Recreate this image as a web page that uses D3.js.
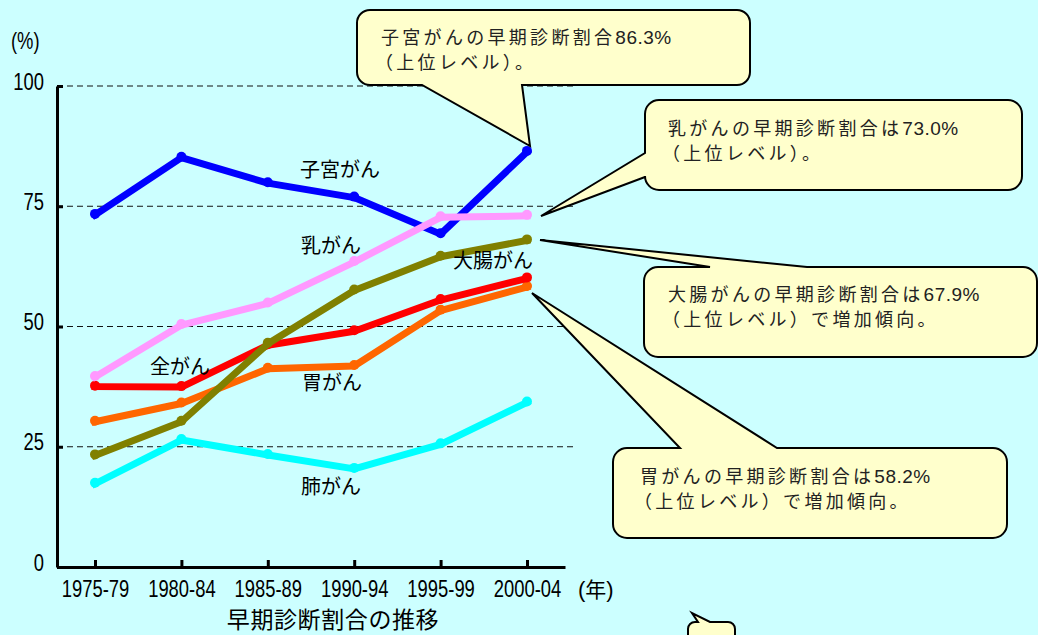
<!DOCTYPE html>
<html>
<head>
<meta charset="utf-8">
<script src="https://d3js.org/d3.v7.min.js"></script>
<style>
  body { margin: 0; background: #ccffff; }
  svg { display: block; }
</style>
</head>
<body>
<div id="chart"></div>
<script>
// periods on the x axis
const categories = ["1975-79", "1980-84", "1985-89", "1990-94", "1995-99", "2000-04"];

// early diagnosis share (%) per site
const uterus = [73.2, 85.1, 79.8, 76.8, 69.2, 86.3];
const breast = [39.5, 50.3, 54.8, 63.4, 72.7, 73.0];
const colon  = [23.2, 30.2, 46.4, 57.5, 64.5, 67.9];
const allSites = [37.5, 37.4, 46.1, 49.0, 55.5, 60.0];
const stomach = [30.2, 34.0, 41.2, 41.8, 53.3, 58.2];
const lung   = [17.3, 26.4, 23.3, 20.4, 25.5, 34.2];

const yTicks = [0, 25, 50, 75, 100];

const width = 1038, height = 635;
const sans = "'Liberation Sans', Arial, sans-serif";
const jp = "'Noto Sans CJK JP', 'Noto Sans', sans-serif";
const squeeze = 0.8;   // narrow look of the axis font

const series = [
  { name: "肺がん",   values: lung,     color: "#00ffff", lx: 301, ly: 494 },
  { name: "胃がん",   values: stomach,  color: "#ff6600", lx: 302, ly: 390 },
  { name: "全がん",   values: allSites, color: "#ff0000", lx: 150, ly: 374 },
  { name: "子宮がん", values: uterus,   color: "#0000ff", lx: 300, ly: 177 },
  { name: "乳がん",   values: breast,   color: "#ff99ff", lx: 301, ly: 253 },
  { name: "大腸がん", values: colon,    color: "#808000", lx: 453, ly: 268 }
];

const svg = d3.select("#chart").append("svg")
    .attr("width", width)
    .attr("height", height);

svg.append("rect").attr("width", width).attr("height", height).attr("fill", "#ccffff");

const x = d3.scalePoint().domain(categories).range([57, 565]).padding(0.44);
const y = d3.scaleLinear().domain([0, 100]).range([567, 86]);

// dashed gridlines
svg.append("g")
  .selectAll("line")
  .data(yTicks.filter(d => d > 0))
  .join("line")
    .attr("x1", 57).attr("x2", 575)
    .attr("y1", d => y(d)).attr("y2", d => y(d))
    .attr("stroke", "#111")
    .attr("stroke-width", 1)
    .attr("stroke-dasharray", "6,4");

// axes
const yAxis = svg.append("g")
    .attr("transform", "translate(57,0)")
    .call(d3.axisLeft(y).tickValues(yTicks).tickSizeInner(-6).tickSizeOuter(0).tickPadding(13));
yAxis.selectAll("text")
    .attr("dy", 3)
    .attr("x", -13 / squeeze)
    .attr("transform", `scale(${squeeze},1)`);

const xAxis = svg.append("g")
    .attr("transform", "translate(0,567)")
    .call(d3.axisBottom(x).tickSizeInner(-7).tickSizeOuter(0).tickPadding(14));
xAxis.selectAll("text").attr("transform", `scale(${squeeze},1)`);

[yAxis, xAxis].forEach(g => {
  g.select(".domain").attr("stroke", "#000").attr("stroke-width", 3);
  g.selectAll(".tick line").attr("stroke", "#000").attr("stroke-width", 3);
  g.selectAll("text")
    .attr("fill", "#000")
    .style("font-family", sans)
    .style("font-size", "23px");
});

svg.append("text")
  .attr("transform", `translate(11,49) scale(${squeeze},1)`)
  .style("font-family", sans).style("font-size", "23px")
  .text("(%)");

const nen = svg.append("text")
  .attr("x", 578).attr("y", 597)
  .style("font-size", "22px");
nen.append("tspan").style("font-family", sans).text("(");
nen.append("tspan").style("font-family", jp).style("font-size", "21px").text("年");
nen.append("tspan").style("font-family", sans).text(")");

svg.append("text").attr("x", 333).attr("y", 628)
  .attr("text-anchor", "middle")
  .style("font-family", jp).style("font-size", "23px").style("letter-spacing", "0.6px")
  .text("早期診断割合の推移");

// lines + markers
const line = d3.line()
    .x((d, i) => x(categories[i]))
    .y(d => y(d));

const lines = svg.append("g");
series.forEach(s => {
  lines.append("path")
    .attr("d", line(s.values))
    .attr("fill", "none")
    .attr("stroke", s.color)
    .attr("stroke-width", 7)
    .attr("stroke-linecap", "square")
    .attr("stroke-linejoin", "round");
  lines.selectAll(null)
    .data(s.values)
    .join("circle")
      .attr("cx", (d, i) => x(categories[i]))
      .attr("cy", d => y(d) - 1)
      .attr("r", 5)
      .attr("fill", s.color);
});

// series labels
svg.append("g")
  .selectAll("text")
  .data(series)
  .join("text")
    .attr("x", d => d.lx)
    .attr("y", d => d.ly)
    .style("font-family", jp)
    .style("font-size", "20px")
    .attr("fill", "#000")
    .text(d => d.name);

// callout bubbles: rounded box with a pointer on one side
function bubble(b) {
  const { x0, y0, w, h, r, side, a, c, tip } = b;
  const x1 = x0 + w, y1 = y0 + h;
  const p = d3.path();
  p.moveTo(x0 + r, y0);
  if (side === "top") { p.lineTo(a, y0); p.lineTo(tip[0], tip[1]); p.lineTo(c, y0); }
  p.lineTo(x1 - r, y0);
  p.arcTo(x1, y0, x1, y0 + r, r);
  p.lineTo(x1, y1 - r);
  p.arcTo(x1, y1, x1 - r, y1, r);
  if (side === "bottom") { p.lineTo(c, y1); p.lineTo(tip[0], tip[1]); p.lineTo(a, y1); }
  p.lineTo(x0 + r, y1);
  p.arcTo(x0, y1, x0, y1 - r, r);
  if (side === "left") { p.lineTo(x0, c); p.lineTo(tip[0], tip[1]); p.lineTo(x0, a); }
  p.lineTo(x0, y0 + r);
  p.arcTo(x0, y0, x0 + r, y0, r);
  p.closePath();
  return p.toString();
}

const callouts = [
  { x0: 357, y0: 10, w: 393, h: 75, r: 13, side: "bottom", a: 422, c: 522, tip: [530, 146],
    lines: ["子宮がんの早期診断割合86.3%", "（上位レベル）。"], tx: 381, ty: 44 },
  { x0: 645, y0: 100, w: 377, h: 90, r: 14, side: "left", a: 153, c: 177, tip: [541, 216],
    lines: ["乳がんの早期診断割合は73.0%", "（上位レベル）。"], tx: 668, ty: 135 },
  { x0: 644, y0: 267, w: 393, h: 90, r: 14, side: "top", a: 710, c: 807, tip: [540, 240],
    lines: ["大腸がんの早期診断割合は67.9%", "（上位レベル）で増加傾向。"], tx: 668, ty: 301 },
  { x0: 613, y0: 448, w: 394, h: 90, r: 14, side: "top", a: 680, c: 777, tip: [532, 293],
    lines: ["胃がんの早期診断割合は58.2%", "（上位レベル）で増加傾向。"], tx: 640, ty: 483 },
  { x0: 688, y0: 622, w: 47, h: 40, r: 7, side: "top", a: 698, c: 710, tip: [692, 613],
    lines: [], tx: 0, ty: 0 }
];

const cg = svg.append("g");
callouts.forEach(b => {
  cg.append("path")
    .attr("d", bubble(b))
    .attr("fill", "#ffffcc")
    .attr("stroke", "#000")
    .attr("stroke-width", 2)
    .attr("stroke-linejoin", "miter");
  b.lines.forEach((t, i) => {
    const txt = cg.append("text")
      .attr("x", b.tx - (i ? 6 : 0))
      .attr("y", b.ty + i * 25)
      .attr("fill", "#222")
      .style("font-size", "18px");
    // Japanese part spaced out, the number kept tight
    t.split(/([0-9.]+%)/).filter(s => s).forEach(part => {
      const isNum = /^[0-9.]+%$/.test(part);
      txt.append("tspan")
        .style("font-family", isNum ? sans : jp)
        .style("font-size", isNum ? "19px" : "18px")
        .style("letter-spacing", isNum ? "0.5px" : "3.3px")
        .text(part);
    });
  });
});
</script>
</body>
</html>
